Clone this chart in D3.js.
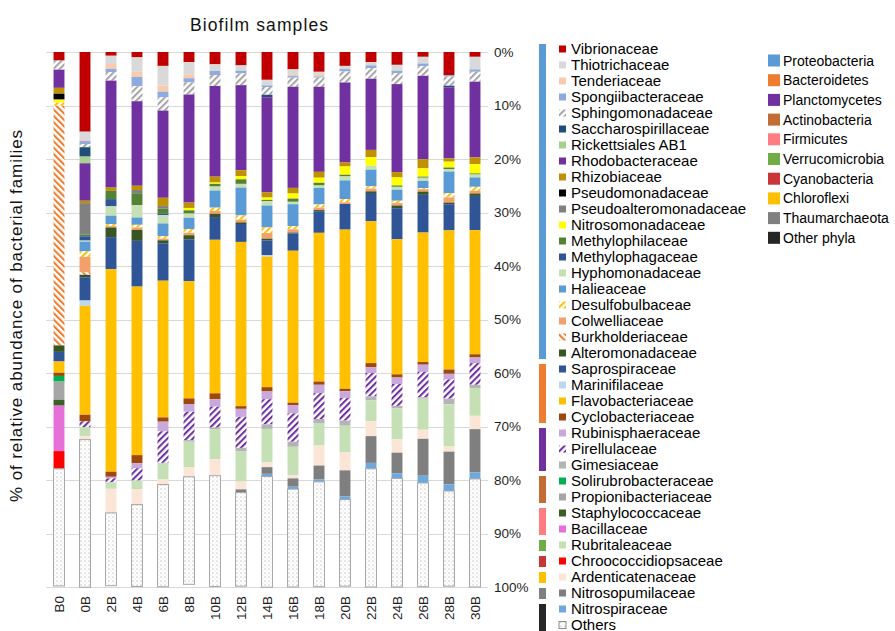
<!DOCTYPE html>
<html>
<head>
<meta charset="utf-8">
<script src="https://cdn.jsdelivr.net/npm/d3@7"></script>
<style>
  html, body { margin: 0; padding: 0; background: #fff; }
  svg { display: block; font-family: "Liberation Sans", Arial, sans-serif; }
</style>
</head>
<body>
<svg id="chart" width="895" height="631"></svg>
<script>
// Samples (x categories)
const samples = ["B0", "0B", "2B", "4B", "6B", "8B", "10B", "12B", "14B", "16B", "18B", "20B", "22B", "24B", "26B", "28B", "30B"];

// Relative abundance (%) of each family, one value per sample
const vibrionaceae         = [1.6, 14.9, 0.7, 1.0, 2.6, 1.9, 2.3, 2.5, 5.2, 3.25, 3.7, 2.6, 1.9, 2.4, 0.9, 4.3, 0.9];
const thiotrichaceae       = [0, 1.55, 1.55, 2.7, 3.7, 2.25, 1.25, 1.0, 1.05, 1.05, 0.6, 0.6, 0.6, 1.1, 1.25, 0, 2.35];
const tenderiaceae         = [0, 0.2, 0.9, 0.95, 1.1, 0.75, 0, 0, 0, 0.2, 0.3, 0, 0, 0, 0, 0, 0];
const spongiibacteraceae   = [0, 0.55, 0.6, 1.75, 1.05, 0.8, 0.75, 0.5, 0.3, 0.3, 0.2, 0.45, 0.5, 0.45, 0.5, 0.3, 0.45];
const sphingomonadaceae    = [1.7, 0.6, 1.6, 2.8, 2.5, 2.25, 2.05, 2.2, 1.45, 1.7, 1.7, 2.05, 2.0, 2.05, 1.8, 1.7, 1.85];
const saccharospirillaceae = [0, 1.75, 0, 0, 0, 0, 0, 0, 0.45, 0, 0, 0, 0, 0, 0, 0.3, 0];
const rickettsialesAB1     = [0, 1.25, 0, 0, 0, 0, 0, 0, 0, 0, 0, 0, 0, 0, 0, 0, 0];
const rhodobacteraceae     = [3.4, 7.0, 20.0, 15.8, 16.3, 20.2, 16.95, 15.9, 17.8, 18.9, 15.9, 14.95, 13.3, 16.45, 15.6, 13.3, 14.15];
const rhizobiaceae         = [1.1, 0.45, 0.6, 0.8, 1.55, 1.0, 1.1, 1.1, 0.95, 1.05, 1.1, 0.75, 1.35, 1.0, 1.7, 0.6, 1.25];
const pseudomonadaceae     = [1.1, 0, 0, 0, 0, 0, 0, 0, 0, 0, 0, 0, 0, 0, 0, 0, 0];
const pseudoalteromonadaceae = [0, 5.9, 0, 0.6, 0.45, 0, 0, 0, 0, 0, 0, 0, 0, 0, 0, 0, 0];
const nitrosomonadaceae    = [0.55, 0, 0, 0, 0, 0.45, 0.25, 0.6, 0.45, 0.95, 0.95, 1.55, 1.6, 1.5, 1.55, 1.1, 1.75];
const methylophilaceae     = [0, 0.3, 1.55, 2.2, 0.95, 0.6, 0.5, 0.85, 0.25, 0.6, 0.5, 0.3, 0, 0.25, 0.2, 0.3, 0.2];
const methylophagaceae     = [0, 0.8, 1.35, 0, 0.3, 0, 0, 0, 0, 0, 0, 0, 0, 0, 0, 0, 0];
const hyphomonadaceae      = [0, 0.2, 1.75, 2.35, 1.55, 0.8, 0.75, 0.7, 0.8, 0.45, 0.45, 0.75, 0.75, 0.55, 0.6, 0.45, 0.55];
const halieaceae           = [0, 1.8, 1.55, 1.35, 2.35, 2.1, 3.2, 5.2, 4.1, 4.1, 3.1, 3.5, 3.1, 2.05, 1.35, 4.05, 1.75];
const desulfobulbaceae     = [0.6, 1.05, 0.4, 0.5, 0.5, 0.7, 0.6, 0.8, 1.05, 0.6, 0.6, 0.6, 0.45, 0.45, 0.2, 0.8, 0.75];
const colwelliaceae        = [0, 2.9, 0.25, 0.45, 0.3, 0.45, 0.55, 0.5, 1.05, 0.6, 0.45, 0.3, 0.5, 0.45, 0.45, 0.95, 0.5];
const burkholderiaceae     = [44.8, 0.45, 0, 0, 0, 0, 0, 0, 0, 0, 0, 0, 0, 0, 0, 0, 0];
const alteromonadaceae     = [1.2, 0.45, 1.8, 2.05, 0.55, 0.75, 0.6, 0.3, 0.35, 0.15, 0.2, 0, 0.3, 0.5, 0.6, 0.3, 0.45];
const saprospiraceae       = [1.8, 4.35, 6.0, 8.55, 7.0, 7.85, 4.25, 3.35, 2.7, 3.25, 4.05, 4.8, 5.3, 5.8, 7.05, 4.9, 6.4];
const marinifilaceae       = [0, 1.0, 0, 0, 0, 0, 0, 0, 0.3, 0, 0, 0, 0, 0, 0, 0, 0];
const flavobacteriaceae    = [2.1, 20.35, 37.85, 31.5, 25.55, 21.9, 28.7, 30.7, 24.4, 28.4, 27.8, 29.75, 26.5, 25.25, 24.2, 26.0, 23.2];
const cyclobacteriaceae    = [0.6, 1.25, 0.95, 1.5, 0.8, 1.05, 1.1, 0.5, 0.8, 0.45, 0.6, 0.45, 0.75, 0.6, 0.5, 0.8, 0.6];
const rubinisphaeraceae    = [0, 0, 0.3, 0.95, 1.8, 1.45, 1.4, 1.5, 1.45, 1.55, 1.55, 1.25, 1.1, 1.2, 1.35, 1.05, 1.05];
const pirellulaceae        = [0, 1.1, 0.75, 2.3, 5.9, 5.3, 3.9, 5.8, 4.7, 5.3, 4.85, 4.25, 4.35, 4.1, 4.75, 3.6, 4.05];
const gimesiaceae          = [0, 0, 0, 0, 0, 0.3, 0.3, 0.6, 0.85, 0.95, 0.85, 0.95, 0.75, 0.45, 0.25, 1.05, 0.6];
const solirubrobacteraceae = [1.05, 0, 0, 0, 0, 0, 0, 0, 0, 0, 0, 0, 0, 0, 0, 0, 0];
const propionibacteriaceae = [3.4, 0, 0, 0, 0, 0, 0, 0, 0, 0, 0, 0, 0, 0, 0, 0, 0];
const staphylococcaceae    = [1.1, 0, 0, 0, 0, 0, 0, 0, 0, 0, 0, 0, 0, 0, 0, 0, 0];
const bacillaceae          = [8.5, 0, 0, 0, 0, 0, 0, 0, 0, 0, 0, 0, 0, 0, 0, 0, 0];
const rubritaleaceae       = [0, 1.7, 1.2, 1.6, 3.1, 4.8, 5.6, 5.7, 6.2, 5.3, 4.1, 5.0, 3.9, 5.8, 5.8, 7.9, 5.2];
const chroococcidiopsaceae = [3.3, 0, 0, 0, 0, 0, 0, 0, 0, 0, 0, 0, 0, 0, 0, 0, 0];
const ardenticatenaceae    = [0, 0.6, 4.5, 2.9, 0.95, 1.75, 3.1, 1.45, 0.95, 0.6, 3.75, 3.35, 2.8, 2.5, 1.7, 0.95, 2.5];
const nitrosopumilaceae    = [0, 0, 0, 0, 0, 0, 0, 0.6, 1.25, 1.55, 2.6, 4.85, 5.0, 3.85, 6.9, 6.1, 8.1];
const nitrospiraceae       = [0, 0, 0, 0, 0, 0, 0, 0, 0.5, 0.45, 0.45, 0.6, 1.1, 0.95, 1.35, 1.25, 1.2];
const others               = [21.9, 27.6, 13.6, 15.3, 19.1, 20.1, 20.7, 17.5, 20.7, 18.3, 19.6, 16.2, 22.1, 20.3, 19.4, 17.8, 20.2];

// Families in stacking / legend order (top of the bar first)
const familyNames = [
  "Vibrionaceae", "Thiotrichaceae", "Tenderiaceae", "Spongiibacteraceae", "Sphingomonadaceae",
  "Saccharospirillaceae", "Rickettsiales AB1", "Rhodobacteraceae", "Rhizobiaceae", "Pseudomonadaceae",
  "Pseudoalteromonadaceae", "Nitrosomonadaceae", "Methylophilaceae", "Methylophagaceae", "Hyphomonadaceae",
  "Halieaceae", "Desulfobulbaceae", "Colwelliaceae", "Burkholderiaceae", "Alteromonadaceae",
  "Saprospiraceae", "Marinifilaceae", "Flavobacteriaceae", "Cyclobacteriaceae",
  "Rubinisphaeraceae", "Pirellulaceae", "Gimesiaceae",
  "Solirubrobacteraceae", "Propionibacteriaceae",
  "Staphylococcaceae", "Bacillaceae",
  "Rubritaleaceae", "Chroococcidiopsaceae", "Ardenticatenaceae", "Nitrosopumilaceae",
  "Nitrospiraceae", "Others"
];
const familyValues = [
  vibrionaceae, thiotrichaceae, tenderiaceae, spongiibacteraceae, sphingomonadaceae,
  saccharospirillaceae, rickettsialesAB1, rhodobacteraceae, rhizobiaceae, pseudomonadaceae,
  pseudoalteromonadaceae, nitrosomonadaceae, methylophilaceae, methylophagaceae, hyphomonadaceae,
  halieaceae, desulfobulbaceae, colwelliaceae, burkholderiaceae, alteromonadaceae,
  saprospiraceae, marinifilaceae, flavobacteriaceae, cyclobacteriaceae,
  rubinisphaeraceae, pirellulaceae, gimesiaceae,
  solirubrobacteraceae, propionibacteriaceae,
  staphylococcaceae, bacillaceae,
  rubritaleaceae, chroococcidiopsaceae, ardenticatenaceae, nitrosopumilaceae,
  nitrospiraceae, others
];
const familyFills = [
  "#C00000", "#D9D9D9", "#F8CBAD", "#8FAADC", "url(#hatchGray)",
  "#1F4E79", "#A9D18E", "#7030A0", "#BF9000", "#000000",
  "#808080", "#FFFF00", "#548235", "#2F5597", "#C5E0B4",
  "#5B9BD5", "url(#hatchGold)", "#F3A06A", "url(#hatchOrange)", "#375623",
  "#2F5597", "#BDD7EE", "#FFC000", "#9E480E",
  "#C9A9DC", "url(#hatchPurple)", "#B4B4B4",
  "#00B050", "#A6A6A6",
  "#3A5F27", "#E670D8",
  "#C5E0B4", "#FF0000", "#FBE5D6", "#7F7F7F",
  "#6FA8DC", "url(#dots)"
];

// Phyla: name, colour, first and last family index they group in the legend
const phyla = ["Proteobacteria", "Bacteroidetes", "Planctomycetes", "Actinobacteria", "Firmicutes",
               "Verrucomicrobia", "Cyanobacteria", "Chloroflexi", "Thaumarchaeota", "Other phyla"];
const phylumColors = ["#5B9BD5", "#ED7D31", "#7030A0", "#C46C35", "#FF7C80",
                      "#70AD47", "#C9363A", "#FFC000", "#808080", "#262626"];
const phylumFirst = [0, 20, 24, 27, 29, 31, 32, 33, 34, 35];
const phylumLast  = [19, 23, 26, 28, 30, 31, 32, 33, 34, 36];

const yTicks = [0, 10, 20, 30, 40, 50, 60, 70, 80, 90, 100];

const svg = d3.select("#chart");
svg.append("rect").attr("width", 895).attr("height", 631).attr("fill", "#fff");

// Fill patterns
const defs = svg.append("defs");
function hatch(id, color, angle) {
  const p = defs.append("pattern").attr("id", id).attr("patternUnits", "userSpaceOnUse")
    .attr("width", 4.5).attr("height", 4.5).attr("patternTransform", `rotate(${angle})`);
  p.append("rect").attr("width", 4.5).attr("height", 4.5).attr("fill", "#fff");
  p.append("line").attr("x1", 1).attr("y1", 0).attr("x2", 1).attr("y2", 4.5)
    .attr("stroke", color).attr("stroke-width", 2.1);
}
hatch("hatchGray", "#A6A6A6", 45);
hatch("hatchGold", "#FFC000", 45);
hatch("hatchOrange", "#ED7D31", -45);
hatch("hatchPurple", "#7030A0", 45);
const dp = defs.append("pattern").attr("id", "dots").attr("patternUnits", "userSpaceOnUse")
  .attr("width", 4).attr("height", 4);
dp.append("rect").attr("width", 4).attr("height", 4).attr("fill", "#fff");
dp.append("circle").attr("cx", 1).attr("cy", 1).attr("r", 0.6).attr("fill", "#8f8f8f");
dp.append("circle").attr("cx", 3).attr("cy", 3).attr("r", 0.45).attr("fill", "#c4c4c4");

// Scales
const x = d3.scaleBand().domain(samples).range([46, 488]).paddingInner(0.58).paddingOuter(0.29);
const y = d3.scaleLinear().domain([0, 100]).range([52, 587]);

// Gridlines
svg.append("g").selectAll("line").data(yTicks).join("line")
  .attr("x1", 46).attr("x2", 488)
  .attr("y1", d => Math.round(y(d)) + 0.5).attr("y2", d => Math.round(y(d)) + 0.5)
  .attr("stroke", "#D9D9D9").attr("stroke-width", 1);

// Stacked bars
const rows = samples.map((s, i) => {
  const r = { sample: s };
  familyNames.forEach((f, k) => { r[f] = familyValues[k][i]; });
  return r;
});
const series = d3.stack().keys(familyNames)(rows);

svg.append("g").selectAll("g").data(series).join("g")
  .attr("fill", (d, k) => familyFills[k])
  .attr("stroke", (d, k) => familyNames[k] === "Others" ? "#A6A6A6" : "none")
  .attr("stroke-width", 1)
  .selectAll("rect").data(d => d.filter(v => v[1] - v[0] > 0)).join("rect")
  .attr("x", d => x(d.data.sample))
  .attr("width", x.bandwidth())
  .attr("y", d => y(d[0]))
  .attr("height", d => y(d[1]) - y(d[0]));

// Right-hand percentage axis
const yAxis = svg.append("g").attr("transform", "translate(488,0)")
  .call(d3.axisRight(y).tickValues(yTicks).tickFormat(d => d + "%").tickSize(0).tickPadding(6));
yAxis.select(".domain").remove();
yAxis.selectAll("text").attr("font-size", 13.5).attr("fill", "#1f1f1f")
  .attr("font-family", "\"Liberation Sans\", Arial, sans-serif");

// Sample labels
const xAxis = svg.append("g").attr("transform", "translate(0,587)")
  .call(d3.axisBottom(x).tickSize(0));
xAxis.select(".domain").remove();
xAxis.selectAll("text")
  .attr("transform", "rotate(-90)")
  .attr("x", -9).attr("y", 0).attr("dy", "0.35em")
  .style("text-anchor", "end")
  .attr("font-size", 13.5).attr("fill", "#1f1f1f")
  .attr("font-family", "\"Liberation Sans\", Arial, sans-serif");

// Titles
svg.append("text").attr("x", 259).attr("y", 31).attr("text-anchor", "middle")
  .attr("font-size", 17.5).attr("fill", "#111").attr("textLength", 138)
  .text("Biofilm samples");
svg.append("text").attr("transform", "translate(16,316) rotate(-90)")
  .attr("text-anchor", "middle").attr("dy", "0.35em")
  .attr("font-size", 17).attr("fill", "#111").attr("textLength", 372)
  .text("% of relative abundance of bacterial families");

// Family legend
const legY = i => 49 + 16 * i;
const leg = svg.append("g");
const items = leg.selectAll("g").data(familyNames).join("g")
  .attr("transform", (d, i) => `translate(0,${legY(i)})`);
items.append("rect").attr("x", 559).attr("y", -3.5).attr("width", 7).attr("height", 7)
  .attr("fill", (d, i) => familyFills[i])
  .attr("stroke", d => d === "Others" ? "#8c8c8c" : "none");
items.append("text").attr("x", 571).attr("dy", "0.36em")
  .attr("font-size", 15).attr("fill", "#000").text(d => d);

// Phylum brackets beside the family legend
svg.append("g").selectAll("rect").data(phyla).join("rect")
  .attr("x", 539).attr("width", 7)
  .attr("y", (d, i) => legY(phylumFirst[i]) - 5)
  .attr("height", (d, i) => 16 * (phylumLast[i] - phylumFirst[i] + 1) - 5)
  .attr("fill", (d, i) => phylumColors[i]);

// Phylum legend
const pl = svg.append("g").selectAll("g").data(phyla).join("g")
  .attr("transform", (d, i) => `translate(0,${60.5 + 19.7 * i})`);
pl.append("rect").attr("x", 768).attr("y", -6).attr("width", 12).attr("height", 12)
  .attr("fill", (d, i) => phylumColors[i]);
pl.append("text").attr("x", 783).attr("dy", "0.36em").attr("font-size", 14)
  .attr("fill", "#000").text(d => d);
</script>
</body>
</html>
